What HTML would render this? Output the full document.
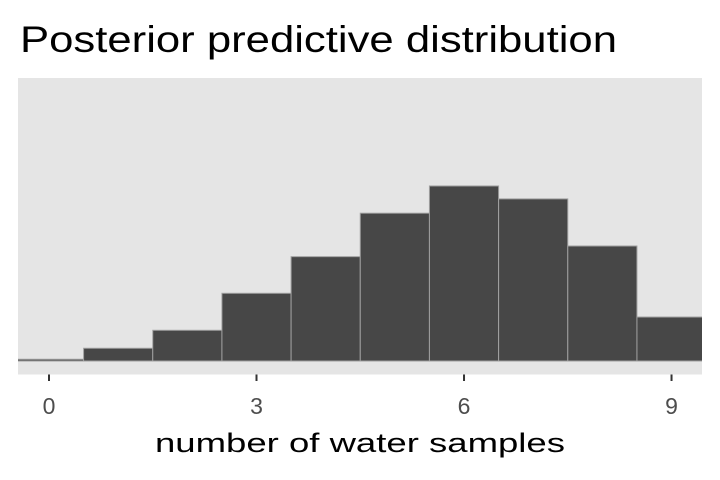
<!DOCTYPE html>
<html><head><meta charset="utf-8"><style>body{margin:0;background:#fff}svg{display:block;font-family:"Liberation Sans",sans-serif}</style></head>
<body>
<svg id="chart" width="720" height="480">
<rect x="0" y="0" width="720" height="480" fill="#fff"/>
<text x="20" y="52" font-size="37" fill="#000" textLength="597" lengthAdjust="spacingAndGlyphs">Posterior predictive distribution</text>
<defs><clipPath id="pc"><rect x="18" y="78" width="684" height="296.5"/></clipPath></defs>
<rect x="18" y="78" width="684" height="296.5" fill="#e5e5e5"/>
<g id="bars" clip-path="url(#pc)"></g>
<g id="ticks"></g>
<text x="360" y="452" font-size="27" text-anchor="middle" fill="#000" textLength="410" lengthAdjust="spacingAndGlyphs">number of water samples</text>
</svg>
<script>
const categories=[0,1,2,3,4,5,6,7,8,9];
const counts=[10,73,176,388,598,847,1003,929,659,252];
const tickValues=[0,3,6,9];
const tickLabels=["0","3","6","9"];
const ns="http://www.w3.org/2000/svg";
const xs=v=>49+v*69.17;
const ys=v=>361-v*0.1745;
const bg=document.getElementById('bars');
categories.forEach((c,i)=>{
  const r=document.createElementNS(ns,'rect');
  
  
  const x0=xs(c-0.5),x1=xs(c+0.5),y=ys(counts[i]);
  r.setAttribute('x',x0);r.setAttribute('width',x1-x0);
  r.setAttribute('y',y);r.setAttribute('height',ys(0)-y);
  r.setAttribute('fill','#474747');r.setAttribute('stroke','#a0a0a0');r.setAttribute('stroke-width','1');
  bg.appendChild(r);
});
const tg=document.getElementById('ticks');
tickValues.forEach((v,i)=>{
  const l=document.createElementNS(ns,'line');
  
  
  l.setAttribute('x1',xs(v));l.setAttribute('x2',xs(v));l.setAttribute('y1',374.5);l.setAttribute('y2',381);
  l.setAttribute('stroke','#333');l.setAttribute('stroke-width','2');
  tg.appendChild(l);
  const t=document.createElementNS(ns,'text');
  
  
  t.setAttribute('x',xs(v));t.setAttribute('y',414);t.setAttribute('text-anchor','middle');
  t.setAttribute('font-size','23');t.setAttribute('fill','#4d4d4d');
  t.textContent=tickLabels[i];
  tg.appendChild(t);
});
</script>
</body></html>
